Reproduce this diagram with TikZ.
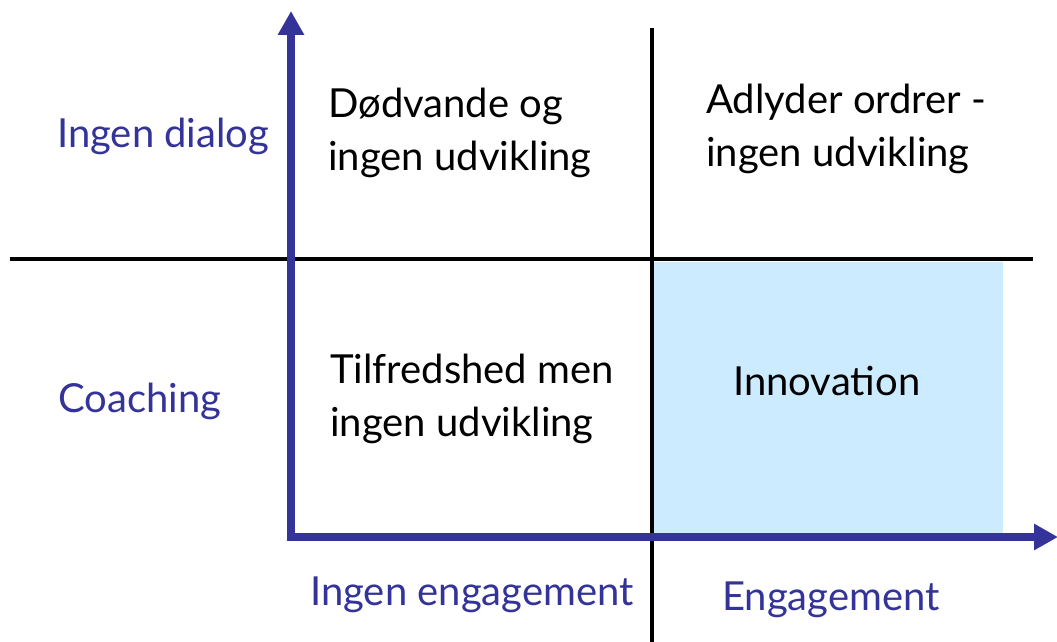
\documentclass[tikz,border=0pt]{standalone}
\usepackage{fontspec}
\setmainfont{Lato}
\usetikzlibrary{arrows.meta}
\definecolor{axisblue}{HTML}{333399}
\definecolor{fillblue}{HTML}{CCEBFF}
\tikzset{
  axisline/.style={draw=axisblue, line width=8pt, -{Triangle[length=24pt,width=25pt]}},
  gridline/.style={draw=black, line width=4pt},
  axislabel/.style={text=axisblue, anchor=base west, inner sep=0pt, font=\fontsize{40}{53}\selectfont},
  quadtext/.style={text=black, anchor=base west, inner sep=0pt, align=left, font=\fontsize{40}{53}\selectfont},
}
\begin{document}
\begin{tikzpicture}[x=1pt,y=-1pt]
\useasboundingbox (0,0) rectangle (1057,642);
% shaded quadrant
\fill[fillblue] (654,262) rectangle (1003,533);
% grid lines
\coordinate (vtop) at (652,28);
\coordinate (vbot) at (652,642);
\coordinate (hleft) at (10,259);
\coordinate (hright) at (1033,259);
\draw[gridline] (vtop) -- (vbot);
\draw[gridline] (hleft) -- (hright);
% axes
\coordinate (origin) at (291,537);
\coordinate (ytip) at (291,11);
\coordinate (xtip) at (1058,537);
\draw[axisline] (291,540) -- (ytip);
\draw[axisline] (287,537) -- (xtip);
% axis labels
\node[axislabel] (ld) at (57,147) {Ingen dialog};
\node[axislabel] (lc) at (58,412) {Coaching};
\node[axislabel] (lie) at (310,605) {Ingen engagement};
\node[axislabel] (le) at (722,610) {Engagement};
% quadrant texts (base anchor = last line's baseline)
\node[quadtext] (q1) at (328,170) {Dødvande og\\ingen udvikling};
\node[quadtext] (q2) at (706,166) {Adlyder ordrer -\\ingen udvikling};
\node[quadtext] (q3) at (330,436) {Tilfredshed men\\ingen udvikling};
\node[quadtext] (q4) at (733,395) {Innovation};
\end{tikzpicture}
\end{document}
